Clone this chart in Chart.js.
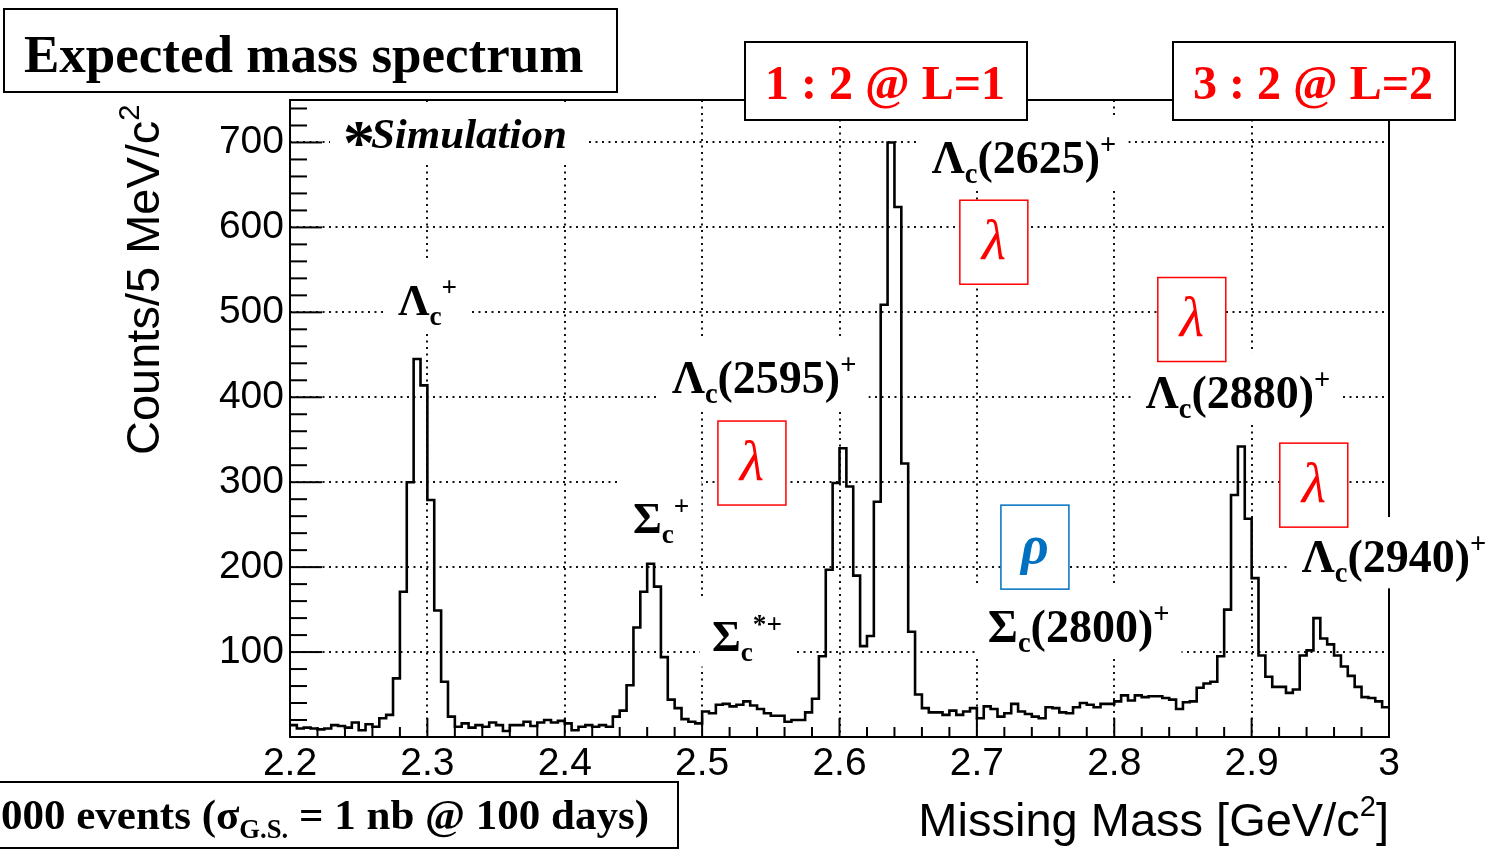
<!DOCTYPE html>
<html>
<head>
<meta charset="utf-8">
<script src="https://cdn.jsdelivr.net/npm/chart.js@4.4.1/dist/chart.umd.min.js"></script>
<style>
  html, body { margin: 0; padding: 0; background: #fff; }
  canvas { display: block; }
</style>
</head>
<body>
<canvas id="spectrumChart" width="1486" height="850"></canvas>
<script>
// missing mass histogram, 5 MeV bins from 2.2 to 3.0 GeV/c^2
const massMin = 2.2;
const binWidth = 0.005;
const counts = [
  14, 10, 11, 10, 9, 10, 14, 13, 11, 17,
  8, 15, 12, 22, 26, 69, 171, 300, 445, 414,
  279, 149, 65, 24, 12, 16, 11, 14, 12, 17,
  14, 7, 14, 14, 18, 13, 17, 20, 17, 19,
  16, 8, 12, 14, 12, 14, 12, 24, 31, 61,
  129, 171, 204, 177, 94, 44, 34, 21, 18, 16,
  30, 28, 38, 39, 36, 38, 42, 37, 33, 28,
  25, 25, 18, 20, 20, 29, 45, 95, 197, 299,
  340, 295, 190, 107, 119, 277, 509, 700, 624, 322,
  124, 50, 34, 29, 29, 26, 31, 26, 30, 34,
  22, 36, 33, 24, 28, 39, 30, 27, 24, 22,
  35, 34, 29, 28, 35, 40, 38, 35, 39, 39,
  42, 49, 43, 49, 47, 48, 48, 46, 44, 33,
  41, 42, 58, 63, 65, 95, 150, 285, 342, 257,
  187, 96, 71, 59, 59, 52, 56, 96, 102, 140,
  116, 109, 96, 83, 72, 59, 47, 46, 42, 35
];
const xTickValues = [2.2, 2.3, 2.4, 2.5, 2.6, 2.7, 2.8, 2.9, 3.0];
const xTickLabels = ['2.2', '2.3', '2.4', '2.5', '2.6', '2.7', '2.8', '2.9', '3'];
const yTickValues = [100, 200, 300, 400, 500, 600, 700];
const yTickLabels = ['100', '200', '300', '400', '500', '600', '700'];

// state names, anchored at (mass, counts) of the text's left baseline
const stateLabels = [
  { parts: [['Λ'], ['c', 'sub'], ['+', 'sup']], mass: 2.2786, count: 497, size: 44 },
  { parts: [['Σ'], ['c', 'sub'], ['+', 'sup']], mass: 2.4496, count: 240, size: 44 },
  { parts: [['Σ'], ['c', 'sub'], ['*+', 'sup']], mass: 2.5071, count: 101, size: 44 },
  { parts: [['Λ'], ['c', 'sub'], ['(2595)'], ['+', 'sup']], mass: 2.4780, count: 405, size: 46 },
  { parts: [['Λ'], ['c', 'sub'], ['(2625)'], ['+', 'sup']], mass: 2.6672, count: 664, size: 46 },
  { parts: [['Λ'], ['c', 'sub'], ['(2880)'], ['+', 'sup']], mass: 2.8230, count: 387, size: 46 },
  { parts: [['Λ'], ['c', 'sub'], ['(2940)'], ['+', 'sup']], mass: 2.9365, count: 194, size: 46 },
  { parts: [['Σ'], ['c', 'sub'], ['(2800)'], ['+', 'sup']], mass: 2.7080, count: 112, size: 46 }
];
// excitation mode boxes, anchored at top-left corner
const modeBoxes = [
  { sym: 'λ', mass: 2.6876, count: 632, color: '#ff0000' },
  { sym: 'λ', mass: 2.8317, count: 541, color: '#ff0000' },
  { sym: 'λ', mass: 2.5115, count: 372, color: '#ff0000' },
  { sym: 'λ', mass: 2.9205, count: 346, color: '#ff0000' },
  { sym: 'ρ', mass: 2.7175, count: 273, color: '#0070c0' }
];

const SERIF = '"Liberation Serif", "Times New Roman", serif';
const SANS = '"Liberation Sans", Arial, sans-serif';

const points = counts.map((c, i) => ({ x: +(massMin + i * binWidth).toFixed(3), y: c }));
points.push({ x: +(massMin + counts.length * binWidth).toFixed(3), y: counts[counts.length - 1] });

function drawRich(ctx, parts, x, y, size, opts = {}) {
  const weight = opts.weight || 'bold';
  const style = opts.style || 'normal';
  const family = opts.family || SERIF;
  let cx = x;
  parts.forEach(([t, kind]) => {
    const s = kind ? size * 0.62 : size;
    const dy = kind === 'sub' ? size * 0.22 : kind === 'sup' ? -size * 0.42 : 0;
    ctx.font = `${style} ${weight} ${s}px ${family}`;
    if (!opts.measure) ctx.fillText(t, cx, y + dy);
    cx += ctx.measureText(t).width;
  });
  return cx - x;
}

function line(ctx, x1, y1, x2, y2) {
  ctx.beginPath();
  ctx.moveTo(x1, y1);
  ctx.lineTo(x2, y2);
  ctx.stroke();
}

function textBox(ctx, x, y, w, h, color) {
  ctx.fillStyle = '#fff';
  ctx.fillRect(x, y, w, h);
  ctx.strokeStyle = color;
  ctx.strokeRect(x, y, w, h);
}

const framePlugin = {
  id: 'frame',
  beforeDatasetsDraw(chart) {
    const { ctx, chartArea: a, scales: { x, y } } = chart;
    ctx.save();
    ctx.strokeStyle = '#000';
    ctx.lineWidth = 2;
    ctx.strokeRect(a.left, a.top, a.right - a.left, a.bottom - a.top);
    for (let i = 0; i <= 40; i++) {
      const px = x.getPixelForValue(2.2 + i * 0.02);
      line(ctx, px, a.bottom, px, a.bottom - (i % 5 === 0 ? 19 : 10));
    }
    for (let v = 20; v <= 740; v += 20) {
      const py = y.getPixelForValue(v);
      line(ctx, a.left, py, a.left + (v % 100 === 0 ? 32 : 17), py);
    }

    // *Simulation
    ctx.textBaseline = 'alphabetic';
    ctx.fillStyle = '#fff';
    const sx = x.getPixelForValue(2.240), sy = y.getPixelForValue(693);
    ctx.font = `italic bold 43px ${SERIF}`;
    const sw = ctx.measureText('Simulation').width + 26;
    ctx.fillRect(sx - 15, a.top + 2, sw + 35, sy + 14 - a.top - 2);
    ctx.fillStyle = '#000';
    ctx.fillText('Simulation', sx + 26, sy);
    ctx.font = `bold 64px ${SERIF}`;
    ctx.fillText('*', sx - 2, sy + 16);

    // state names on white patches
    stateLabels.forEach(l => {
      const lx = x.getPixelForValue(l.mass), ly = y.getPixelForValue(l.count);
      const w = drawRich(ctx, l.parts, lx, ly, l.size, { measure: true });
      ctx.fillStyle = '#fff';
      ctx.fillRect(lx - 12, ly - l.size * 1.2, w + 24, l.size * 1.55);
      ctx.fillStyle = '#000';
      drawRich(ctx, l.parts, lx, ly, l.size);
    });

    // mode boxes
    ctx.lineWidth = 1.5;
    modeBoxes.forEach(b => {
      const bx = x.getPixelForValue(b.mass), by = y.getPixelForValue(b.count);
      textBox(ctx, bx, by, 68, 84, b.color);
      ctx.fillStyle = b.color;
      ctx.textAlign = 'center';
      ctx.textBaseline = 'middle';
      ctx.font = b.sym === 'ρ' ? `italic bold 54px ${SERIF}` : `italic 56px ${SERIF}`;
      ctx.fillText(b.sym, bx + 34, by + 44);
      ctx.textAlign = 'left';
      ctx.textBaseline = 'alphabetic';
    });
    ctx.restore();
  },
  afterDraw(chart) {
    const { ctx } = chart;
    ctx.save();
    ctx.lineWidth = 2;
    ctx.textBaseline = 'alphabetic';

    textBox(ctx, 4, 9, 613, 83, '#000');
    ctx.fillStyle = '#000';
    ctx.font = `bold 53px ${SERIF}`;
    ctx.fillText('Expected mass spectrum', 24, 72);

    textBox(ctx, 745, 42, 282, 78, '#000');
    textBox(ctx, 1173, 42, 282, 78, '#000');
    ctx.fillStyle = '#ff0000';
    ctx.font = `bold 48px ${SERIF}`;
    ctx.fillText('1 : 2 @ L=1', 765, 99);
    ctx.fillText('3 : 2 @ L=2', 1193, 99);

    textBox(ctx, -2, 782, 680, 66, '#000');
    ctx.fillStyle = '#000';
    drawRich(ctx, [['000 events (σ'], ['G.S.', 'sub'], [' = 1 nb @ 100 days)']], 1, 829, 43);

    // axis titles
    const sansOpts = { family: SANS, weight: 'normal' };
    const xTitle = [['Missing Mass [GeV/c'], ['2', 'sup'], [']']];
    const xw = drawRich(ctx, xTitle, 0, 0, 47, { ...sansOpts, measure: true });
    drawRich(ctx, xTitle, 1389 - xw, 836, 47, sansOpts);
    ctx.save();
    ctx.translate(159, 455);
    ctx.rotate(-Math.PI / 2);
    drawRich(ctx, [['Counts/5 MeV/c'], ['2', 'sup']], 0, 0, 47, sansOpts);
    ctx.restore();
    ctx.restore();
  }
};

const tickFont = { family: SANS, size: 39 };

new Chart(document.getElementById('spectrumChart').getContext('2d'), {
  type: 'line',
  data: {
    datasets: [{
      data: points,
      stepped: true,
      borderColor: '#000',
      borderWidth: 2.6,
      pointRadius: 0,
      fill: false
    }]
  },
  options: {
    responsive: false,
    animation: false,
    devicePixelRatio: 1,
    layout: { padding: { top: 100, right: 97, left: 0, bottom: 0 } },
    plugins: { legend: { display: false }, tooltip: { enabled: false } },
    scales: {
      x: {
        type: 'linear',
        min: 2.2,
        max: 3.0,
        afterFit: s => { s.height = 113; },
        afterBuildTicks: s => { s.ticks = xTickValues.map(v => ({ value: v })); },
        ticks: { callback: (v, i) => xTickLabels[i], font: tickFont, color: '#000', padding: 4, maxRotation: 0, autoSkip: false },
        grid: { color: '#111', lineWidth: 2, drawTicks: false },
        border: { display: false, dash: [2, 4.5] }
      },
      y: {
        min: 0,
        max: 750,
        afterFit: s => { s.width = 290; },
        afterBuildTicks: s => { s.ticks = yTickValues.map(v => ({ value: v })); },
        ticks: { callback: (v, i) => yTickLabels[i], font: tickFont, color: '#000', padding: 6 },
        grid: { color: '#111', lineWidth: 2, drawTicks: false },
        border: { display: false, dash: [2, 4.5] }
      }
    }
  },
  plugins: [framePlugin]
});
</script>
</body>
</html>
